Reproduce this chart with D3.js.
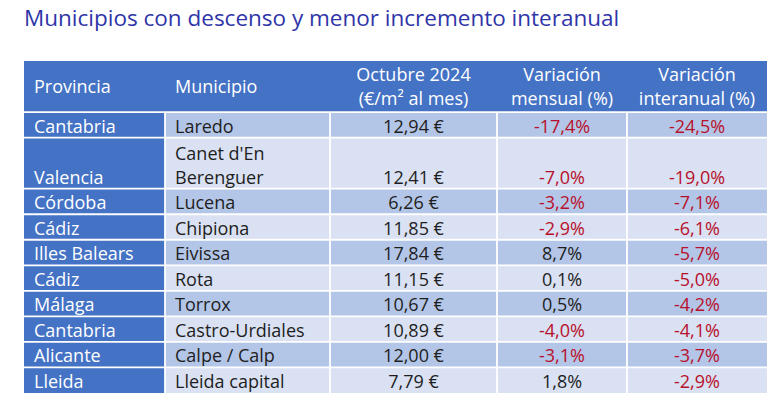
<!DOCTYPE html>
<html><head><meta charset="utf-8">
<script src="https://cdn.jsdelivr.net/npm/d3@7"></script>
<style>html,body{margin:0;padding:0;background:#fff}svg{display:block}</style>
</head><body>
<svg id="c" width="782" height="406"></svg>
<script>
const title = "Municipios con descenso y menor incremento interanual";
const headers = [["Provincia"], ["Municipio"], ["Octubre 2024", "(€/m² al mes)"], ["Variación", "mensual (%)"], ["Variación", "interanual (%)"]];
const provincias = ["Cantabria", "Valencia", "Córdoba", "Cádiz", "Illes Balears", "Cádiz", "Málaga", "Cantabria", "Alicante", "Lleida"];
const municipios = [["Laredo"], ["Canet d'En", "Berenguer"], ["Lucena"], ["Chipiona"], ["Eivissa"], ["Rota"], ["Torrox"], ["Castro-Urdiales"], ["Calpe / Calp"], ["Lleida capital"]];
const precios = [12.94, 12.41, 6.26, 11.85, 17.84, 11.15, 10.67, 10.89, 12.00, 7.79];
const mensual = [-17.4, -7.0, -3.2, -2.9, 8.7, 0.1, 0.5, -4.0, -3.1, 1.8];
const interanual = [-24.5, -19.0, -7.1, -6.1, -5.7, -5.0, -4.2, -4.1, -3.7, -2.9];

const svg = d3.select("#c");
const FONT = "'Open Sans', sans-serif";
const FS = 18;
const BLUE = "#4472C4", DARK = "#B4C6E7", LIGHT = "#D9E1F2", RED = "#B8102C", TXT = "#1e1e1e";

svg.append("text").attr("x", 24).attr("y", 26)
  .attr("font-family", FONT).attr("font-size", 22.5).attr("fill", "#2F35A8").text(title);

// columns
const colEdges = [24, 165, 330, 497, 627, 767];
const colX = i => colEdges[i], colW = i => colEdges[i + 1] - colEdges[i];
// rows in line units
const rowLines = municipios.map(m => m.length);
const starts = [0, 2];
rowLines.forEach((n, i) => starts.push(starts[i + 1] + n));
const y = d3.scaleLinear().domain([0, starts[starts.length - 1]]).range([61, 393]);

// header background
svg.append("rect").attr("x", colEdges[0]).attr("y", y(0)).attr("width", colEdges[5] - colEdges[0]).attr("height", y(2) - y(0)).attr("fill", BLUE);

const fmtNum = d3.format(".2f");
const comma = s => s.replace(".", ",");
const rows = provincias.map((p, i) => ({
  i, top: y(starts[i + 1]), bot: y(starts[i + 2]),
  cells: [[p], municipios[i], [comma(fmtNum(precios[i])) + " €"], [comma(mensual[i].toFixed(1)) + "%"], [comma(interanual[i].toFixed(1)) + "%"]],
  neg: [false, false, false, mensual[i] < 0, interanual[i] < 0]
}));

const g = svg.append("g");
rows.forEach(r => {
  for (let c = 0; c < 5; c++) {
    g.append("rect").attr("x", colX(c)).attr("y", r.top).attr("width", colW(c)).attr("height", r.bot - r.top)
      .attr("fill", c === 0 ? BLUE : (r.i % 2 === 0 ? DARK : LIGHT));
  }
});
// white grid lines
rows.forEach(r => {
  svg.append("line").attr("x1", colEdges[0]).attr("x2", colEdges[5]).attr("y1", r.top).attr("y2", r.top)
    .attr("stroke", "#fff").attr("stroke-width", 1.8);
});
for (let c = 1; c < 5; c++) {
  svg.append("line").attr("x1", colX(c)).attr("x2", colX(c)).attr("y1", y(2)).attr("y2", y(starts[starts.length - 1]))
    .attr("stroke", "#fff").attr("stroke-width", 1.8);
}

// header text
headers.forEach((h, c) => {
  const center = c >= 2;
  const x = center ? colX(c) + colW(c) / 2 : colX(c) + 10;
  const mid = (y(0) + y(2)) / 2;
  h.forEach((line, k) => {
    const base = mid + 6 + (k - (h.length - 1) / 2) * 24;
    svg.append("text").attr("x", x).attr("y", base).attr("text-anchor", center ? "middle" : "start")
      .attr("font-family", FONT).attr("font-size", FS).attr("fill", "#ffffff").text(line);
  });
});

// cell text (bottom aligned)
rows.forEach(r => {
  r.cells.forEach((lines, c) => {
    const center = c >= 2;
    const x = center ? colX(c) + colW(c) / 2 : colX(c) + 10;
    const n = lines.length;
    lines.forEach((line, k) => {
      const base = r.bot - 5 - (n - 1 - k) * 23.5;
      svg.append("text").attr("x", x).attr("y", base).attr("text-anchor", center ? "middle" : "start")
        .attr("font-family", FONT).attr("font-size", FS)
        .attr("fill", c === 0 ? "#ffffff" : (r.neg[c] ? RED : TXT)).text(line);
    });
  });
});
</script>
</body></html>
